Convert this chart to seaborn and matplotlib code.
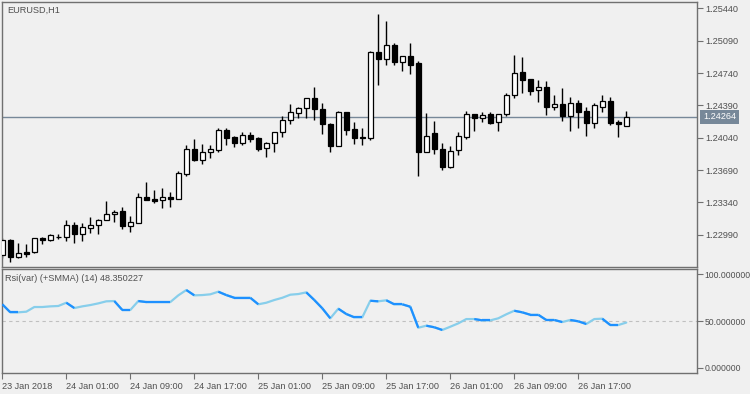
import numpy as np
import pandas as pd
import matplotlib
import seaborn as sns
import matplotlib.pyplot as plt

matplotlib.use('Agg')

# EURUSD H1 bars, 23 Jan 2018 17:00 .. 26 Jan 2018 23:00
opens = [1.22770, 1.22932, 1.22751, 1.22799, 1.22799, 1.22950, 1.22932, 1.22968, 1.22961, 1.23091,
         1.22994, 1.23065, 1.23091, 1.23145, 1.23210, 1.23246, 1.23087, 1.23113, 1.23394, 1.23376,
         1.23368, 1.23394, 1.23379, 1.23650, 1.23914, 1.23798, 1.23888, 1.23906, 1.24123, 1.24050,
         1.23979, 1.24069, 1.24039, 1.23925, 1.23979, 1.24098, 1.24228, 1.24304, 1.24358, 1.24472,
         1.24347, 1.24184, 1.23953, 1.24314, 1.24130, 1.24047, 1.24039, 1.24964, 1.24895, 1.25040,
         1.24862, 1.24921, 1.24851, 1.23888, 1.24087, 1.23920, 1.23726, 1.23906, 1.24050, 1.24293,
         1.24256, 1.24293, 1.24206, 1.24299, 1.24498, 1.24751, 1.24672, 1.24553, 1.24585, 1.24375,
         1.24401, 1.24278, 1.24412, 1.24325, 1.24199, 1.24375, 1.24433, 1.24209, 1.24169]
highs = [1.22954, 1.22940, 1.22896, 1.22886, 1.22954, 1.22961, 1.22997, 1.22997, 1.23149, 1.23130,
         1.23113, 1.23181, 1.23159, 1.23354, 1.23257, 1.23289, 1.23192, 1.23441, 1.23560, 1.23470,
         1.23495, 1.23452, 1.23676, 1.23960, 1.24025, 1.23971, 1.23960, 1.24144, 1.24144, 1.24061,
         1.24098, 1.24098, 1.24050, 1.23990, 1.24098, 1.24274, 1.24404, 1.24375, 1.24472, 1.24588,
         1.24412, 1.24195, 1.24325, 1.24314, 1.24209, 1.24144, 1.24975, 1.25378, 1.25303, 1.25061,
         1.24921, 1.25061, 1.24866, 1.24304, 1.24217, 1.23979, 1.23946, 1.24098, 1.24328, 1.24293,
         1.24314, 1.24314, 1.24299, 1.24520, 1.24935, 1.24910, 1.24672, 1.24664, 1.24653, 1.24502,
         1.24577, 1.24483, 1.24448, 1.24369, 1.24412, 1.24502, 1.24477, 1.24234, 1.24328]
lows = [1.22737, 1.22697, 1.22740, 1.22751, 1.22795, 1.22886, 1.22924, 1.22940, 1.22924, 1.22903,
        1.22924, 1.23011, 1.23000, 1.23145, 1.23130, 1.23048, 1.23022, 1.23113, 1.23362, 1.23336,
        1.23282, 1.23292, 1.23379, 1.23628, 1.23787, 1.23758, 1.23823, 1.23888, 1.23960, 1.23942,
        1.23960, 1.23996, 1.23899, 1.23834, 1.23888, 1.24050, 1.24191, 1.24256, 1.24256, 1.24228,
        1.24083, 1.23888, 1.23953, 1.24072, 1.23974, 1.23964, 1.24018, 1.24613, 1.24830, 1.24830,
        1.24765, 1.24732, 1.23628, 1.23888, 1.23866, 1.23693, 1.23715, 1.23855, 1.24029, 1.24115,
        1.24213, 1.24188, 1.24115, 1.24278, 1.24472, 1.24520, 1.24505, 1.24423, 1.24288, 1.24336,
        1.24217, 1.24115, 1.24148, 1.24061, 1.24148, 1.24321, 1.24174, 1.24050, 1.24169]
closes = [1.22932, 1.22751, 1.22788, 1.22784, 1.22950, 1.22929, 1.22986, 1.22968, 1.23091, 1.22994,
          1.23069, 1.23091, 1.23149, 1.23210, 1.23238, 1.23087, 1.23127, 1.23394, 1.23362, 1.23354,
          1.23394, 1.23379, 1.23654, 1.23914, 1.23798, 1.23888, 1.23914, 1.24123, 1.24039, 1.23985,
          1.24069, 1.24029, 1.23920, 1.23979, 1.24098, 1.24228, 1.24314, 1.24358, 1.24472, 1.24347,
          1.24184, 1.23953, 1.24314, 1.24126, 1.24033, 1.24033, 1.24964, 1.24895, 1.25040, 1.24862,
          1.24921, 1.24830, 1.23888, 1.24055, 1.23920, 1.23726, 1.23899, 1.24055, 1.24293, 1.24256,
          1.24288, 1.24199, 1.24299, 1.24498, 1.24737, 1.24661, 1.24548, 1.24585, 1.24375, 1.24401,
          1.24278, 1.24412, 1.24321, 1.24199, 1.24390, 1.24433, 1.24202, 1.24191, 1.24264]

rsi = [67.9, 59.3, 59.3, 60.0, 65.0, 65.0, 65.7, 66.1, 69.6, 63.9,
       65.7, 67.1, 68.9, 71.1, 71.4, 61.8, 61.8, 71.4, 70.3, 70.3,
       70.3, 70.3, 77.5, 83.2, 77.5, 77.8, 78.6, 81.4, 77.8, 74.9,
       74.9, 74.9, 67.9, 69.6, 72.5, 74.9, 78.2, 78.9, 80.7, 72.5,
       63.6, 52.9, 63.2, 57.5, 54.0, 54.0, 71.7, 71.1, 72.2, 67.9,
       67.9, 65.3, 42.8, 45.0, 43.3, 40.4, 43.9, 47.5, 52.1, 52.1,
       50.7, 50.7, 52.9, 57.2, 61.0, 59.3, 56.7, 56.7, 51.1, 51.1,
       48.9, 51.1, 49.7, 46.8, 52.1, 52.5, 45.7, 45.7, 48.35]

price_ticks = [1.22990, 1.23340, 1.23690, 1.24040, 1.24390, 1.24740, 1.25090, 1.25440]
rsi_ticks = [0, 50, 100]
date_tick_bars = [0, 8, 16, 24, 32, 40, 48, 56, 64, 72]
date_labels = ['23 Jan 2018', '24 Jan 01:00', '24 Jan 09:00', '24 Jan 17:00', '25 Jan 01:00',
               '25 Jan 09:00', '25 Jan 17:00', '26 Jan 01:00', '26 Jan 09:00', '26 Jan 17:00']
last_price = 1.24264
rsi_value = 48.350227

BG = '#F0F0F0'
FRAME = '#707070'
TEXT = '#505050'
UP_C = '#87CEEB'
DN_C = '#1E90FF'
FS = 6.6

sns.set_style('white', rc={'axes.facecolor': BG, 'figure.facecolor': BG,
                           'axes.edgecolor': FRAME})
plt.rcParams['font.family'] = ['Liberation Sans', 'DejaVu Sans']
plt.rcParams['font.size'] = FS

df = pd.DataFrame({'bar': np.arange(len(opens)), 'open': opens, 'high': highs,
                   'low': lows, 'close': closes, 'rsi': rsi})

fig = plt.figure(figsize=(7.5, 3.94), dpi=100, facecolor=BG)
ax = fig.add_axes([2 / 750, 1 - 267 / 394, 695 / 750, 265 / 394])
ax2 = fig.add_axes([2 / 750, 1 - 373.3 / 394, 695 / 750, 104 / 394])

# candles
bull = df['close'] >= df['open']
ax.vlines(df['bar'], df['low'], df['high'], color='black', lw=1.0, zorder=2)
ax.bar(df['bar'], df['close'] - df['open'], bottom=df['open'], width=0.6,
       color=np.where(bull, 'white', 'black'), edgecolor='black', linewidth=0.9, zorder=3)
ax.axhline(last_price, color='#778899', lw=1.0, zorder=1)

ax.set_xlim(-0.04, 86.84)
ax.set_ylim(1.22640, 1.25509)
ax.yaxis.tick_right()
ax.set_yticks(price_ticks)
ax.set_yticklabels([f'{p:.5f}' for p in price_ticks])
ax.set_xticks([])
ax.tick_params(axis='y', direction='out', length=4, width=0.8, color=FRAME,
               labelcolor=TEXT, labelsize=FS, pad=2, right=True)
ax.annotate(f'{last_price:.5f}', xy=(1, last_price), xycoords=('axes fraction', 'data'),
            xytext=(6, 0), textcoords='offset pixels', va='center', ha='left',
            color='white', fontsize=FS,
            bbox=dict(boxstyle='square,pad=0.3', fc='#778899', ec='none'))
ax.annotate('EURUSD,H1', xy=(0, 1), xycoords='axes fraction', xytext=(5, -8),
            textcoords='offset pixels', va='center', ha='left', color=TEXT, fontsize=FS)

# RSI panel
ax2.axhline(50, color='#C0C0C0', lw=0.8, ls=(0, (3, 3)), zorder=1)
sns.lineplot(data=df, x='bar', y='rsi', ax=ax2, color=UP_C, lw=1.6, zorder=2)
prev = DN_C
for i in range(len(rsi) - 1):
    d = rsi[i + 1] - rsi[i]
    c = DN_C if d < 0 else (UP_C if d > 0 else prev)
    prev = c
    if c == DN_C:
        ax2.plot([i, i + 1], [rsi[i], rsi[i + 1]], color=DN_C, lw=1.6, zorder=3,
                 solid_capstyle='butt')

ax2.set_xlim(-0.04, 86.84)
ax2.set_ylim(-6.0, 105.4)
ax2.yaxis.tick_right()
ax2.set_yticks(rsi_ticks)
ax2.set_yticklabels([f'{v:.6f}' for v in rsi_ticks])
ax2.set_xticks(date_tick_bars)
ax2.set_xticklabels(date_labels)
for lab in ax2.get_xticklabels():
    lab.set_ha('left')
ax2.tick_params(axis='x', direction='out', length=4, width=0.8, color=FRAME,
                labelcolor=TEXT, labelsize=FS, pad=2, bottom=True)
ax2.tick_params(axis='y', direction='out', length=4, width=0.8, color=FRAME,
                labelcolor=TEXT, labelsize=6.2, pad=1.5, right=True)
ax2.set_xlabel('')
ax2.set_ylabel('')
ax2.annotate(f'Rsi(var) (+SMMA) (14) {rsi_value:.6f}', xy=(0, 1), xycoords='axes fraction',
             xytext=(3, -9), textcoords='offset pixels', va='center', ha='left',
             color=TEXT, fontsize=FS)

for a in (ax, ax2):
    for s in a.spines.values():
        s.set_color(FRAME)
        s.set_linewidth(1.0)
        s.set_visible(True)

fig.savefig('out.png', dpi=100, facecolor=BG)
